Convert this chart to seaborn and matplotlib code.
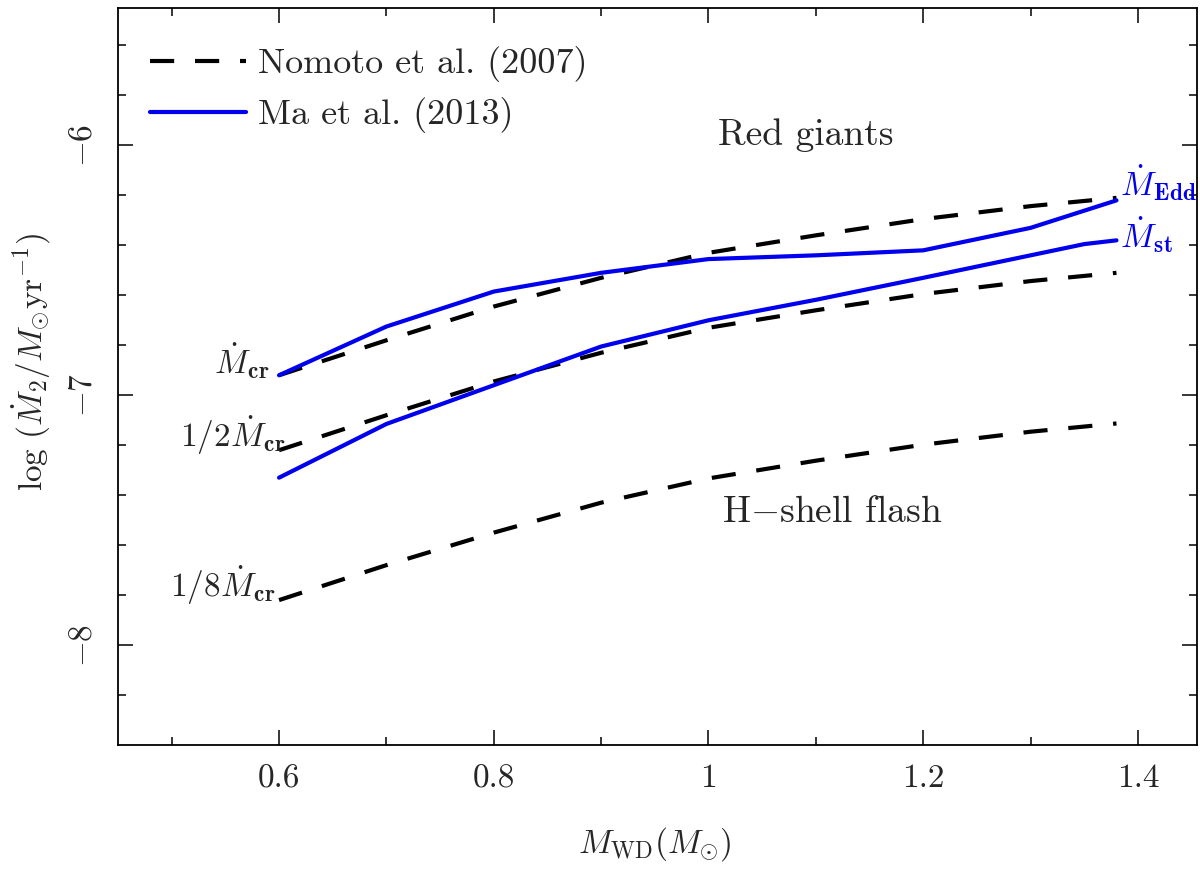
import matplotlib
matplotlib.use("Agg")
import matplotlib.pyplot as plt
import seaborn as sns
import pandas as pd

# ---------------- data ----------------
mass_nomoto = [0.6, 0.7, 0.8, 0.9, 1.0, 1.1, 1.2, 1.3, 1.38]
nomoto_mcr = [-6.92, -6.78, -6.645, -6.53, -6.43, -6.36, -6.295, -6.243, -6.21]
nomoto_half = [-7.22, -7.08, -6.945, -6.83, -6.73, -6.66, -6.595, -6.543, -6.51]
nomoto_eighth = [-7.82, -7.68, -7.55, -7.43, -7.333, -7.262, -7.198, -7.146, -7.113]

mass_ma_edd = [0.6, 0.7, 0.8, 0.9, 1.0, 1.1, 1.2, 1.3, 1.38]
ma_edd = [-6.92, -6.725, -6.585, -6.51, -6.455, -6.44, -6.42, -6.33, -6.22]
mass_ma_st = [0.6, 0.7, 0.8, 0.9, 1.0, 1.1, 1.2, 1.3, 1.35, 1.38]
ma_st = [-7.33, -7.115, -6.96, -6.805, -6.70, -6.618, -6.53, -6.44, -6.395, -6.38]

legend_labels = ["Nomoto et al. (2007)", "Ma et al. (2013)"]
xtick_values = [0.6, 0.8, 1.0, 1.2, 1.4]
xtick_labels = ["0.6", "0.8", "1", "1.2", "1.4"]
ytick_values = [-8, -7, -6]
ytick_labels = [r"$-8$", r"$-7$", r"$-6$"]

# ---------------- style ----------------
sns.set_theme(style="ticks")
plt.rcParams.update({
    "font.family": ["cmr10", "DejaVu Serif"],
    "mathtext.fontset": "cm",
    "axes.formatter.use_mathtext": True,
    "axes.unicode_minus": False,
    "font.size": 24,
})

FS = 24
FS_LEG = 26
FS_REG = 27
BLUE = "#0000ee"
DASH = (0, (5.8, 5.0))
LW = 3.0

fig = plt.figure(figsize=(12, 8.69), dpi=100)
ax = fig.add_axes([118 / 1200, 1 - 745 / 869, (1197 - 118) / 1200, (745 - 8) / 869])

frames = {
    "nomoto_mcr": pd.DataFrame({"M": mass_nomoto, "logM": nomoto_mcr}),
    "nomoto_half": pd.DataFrame({"M": mass_nomoto, "logM": nomoto_half}),
    "nomoto_eighth": pd.DataFrame({"M": mass_nomoto, "logM": nomoto_eighth}),
    "ma_edd": pd.DataFrame({"M": mass_ma_edd, "logM": ma_edd}),
    "ma_st": pd.DataFrame({"M": mass_ma_st, "logM": ma_st}),
}

sns.lineplot(data=frames["nomoto_mcr"], x="M", y="logM", ax=ax, color="black",
             lw=LW, linestyle=DASH, sort=False, estimator=None, label=legend_labels[0])
sns.lineplot(data=frames["nomoto_half"], x="M", y="logM", ax=ax, color="black",
             lw=LW, linestyle=DASH, sort=False, estimator=None)
sns.lineplot(data=frames["nomoto_eighth"], x="M", y="logM", ax=ax, color="black",
             lw=LW, linestyle=DASH, sort=False, estimator=None)
sns.lineplot(data=frames["ma_edd"], x="M", y="logM", ax=ax, color=BLUE,
             lw=LW, sort=False, estimator=None, label=legend_labels[1])
sns.lineplot(data=frames["ma_st"], x="M", y="logM", ax=ax, color=BLUE,
             lw=LW, sort=False, estimator=None)

ax.set_xlim(0.45, 1.455)
ax.set_ylim(-8.4, -5.45)

ax.set_xticks(xtick_values, labels=xtick_labels)
ax.set_xticks([0.5, 0.7, 0.9, 1.1, 1.3], minor=True)
ax.set_yticks(ytick_values, labels=ytick_labels)
ax.set_yticks([-8.2, -7.8, -7.6, -7.4, -7.2, -6.8, -6.6, -6.4, -6.2, -5.8, -5.6], minor=True)

ax.tick_params(which="both", direction="in", top=True, right=True, width=1.1, color="black")
ax.tick_params(which="major", length=11)
ax.tick_params(which="minor", length=6)
ax.tick_params(axis="x", which="major", pad=14, labelsize=FS)
ax.tick_params(axis="y", which="major", pad=15, labelsize=FS)
for lab in ax.get_yticklabels():
    lab.set_rotation(90)
    lab.set_va("center")

for sp in ax.spines.values():
    sp.set_linewidth(1.3)
    sp.set_color("black")

ax.set_xlabel(r"$M_{\rm WD}(M_{\odot})$", fontsize=FS)
ax.xaxis.set_label_coords(0.497, -0.108)
ax.set_ylabel(r"$\log\,(\dot{M}_2/M_{\odot}{\rm yr}^{-1})$", fontsize=FS)
ax.yaxis.set_label_coords(-0.06, 0.52)

# region annotations
ax.text(1.091, -5.96, "Red giants", fontsize=FS_REG, ha="center", va="center")
ax.text(1.115, -7.468, r"H$-$shell flash", fontsize=FS_REG, ha="center", va="center")

ax.text(0.591, -6.912, r"$\dot{M}_{\mathbf{cr}}$", fontsize=FS, ha="right", va="baseline")
ax.text(0.6065, -7.207, r"$1/2\dot{M}_{\mathbf{cr}}$", fontsize=FS, ha="right", va="baseline")
ax.text(0.597, -7.807, r"$1/8\dot{M}_{\mathbf{cr}}$", fontsize=FS, ha="right", va="baseline")
ax.text(1.383, -6.20, r"$\dot{M}_{\mathbf{Edd}}$", fontsize=FS, ha="left", va="baseline", color=BLUE)
ax.text(1.383, -6.407, r"$\dot{M}_{\mathbf{st}}$", fontsize=FS, ha="left", va="baseline", color=BLUE)

leg = ax.legend(loc="upper left", bbox_to_anchor=(0.0297, 0.948), frameon=False,
                fontsize=FS_LEG, handlelength=2.65, handletextpad=0.33, labelspacing=0.42,
                borderpad=0, borderaxespad=0)

fig.savefig("out.png", dpi=100)
